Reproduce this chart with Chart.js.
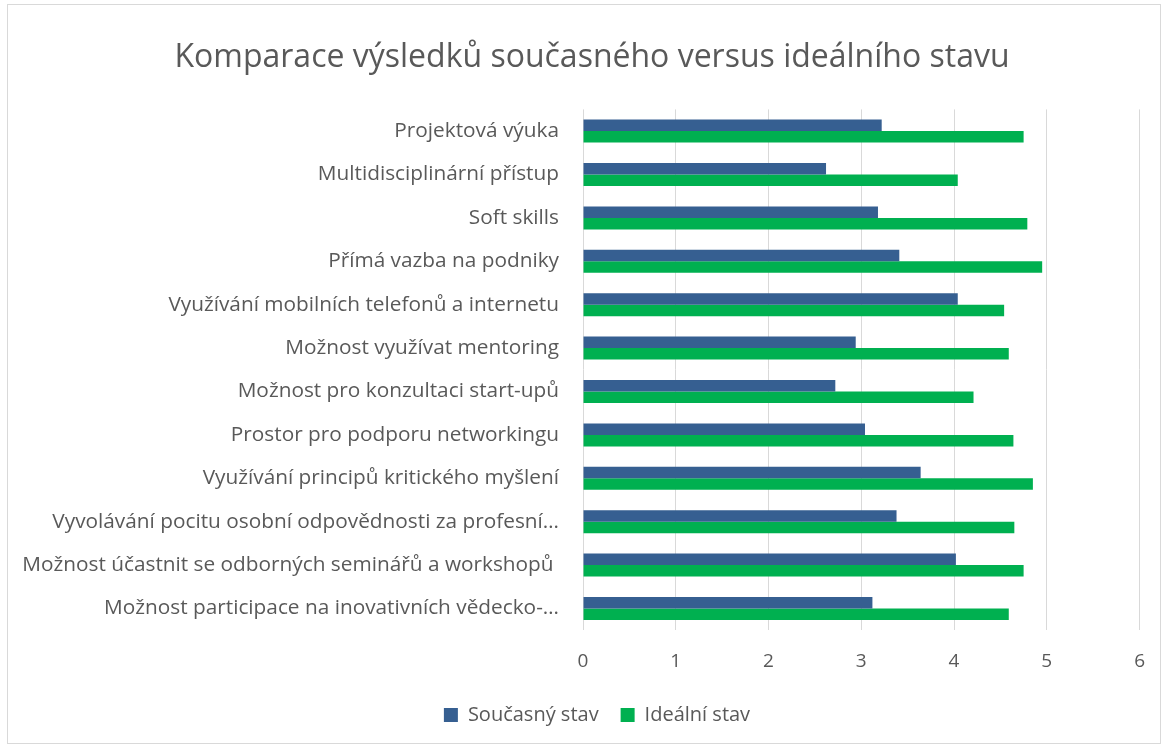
<!DOCTYPE html>
<html><head><meta charset="utf-8">
<script src="https://cdn.jsdelivr.net/npm/chart.js@4"></script>
<style>
html,body{margin:0;padding:0;background:#fff;}
#wrap{position:absolute;left:0;top:0;width:1165px;height:746px;}
#frame{position:absolute;left:7px;top:4px;width:1152px;height:738px;border:1px solid #d9d9d9;pointer-events:none;}
</style></head>
<body>
<div id="wrap"><canvas id="c" width="1165" height="746"></canvas><div id="frame"></div></div>
<script>
const categories = [
  "Projektová výuka",
  "Multidisciplinární přístup",
  "Soft skills",
  "Přímá vazba na podniky",
  "Využívání mobilních telefonů a internetu",
  "Možnost využívat mentoring",
  "Možnost pro konzultaci start-upů",
  "Prostor pro podporu networkingu",
  "Využívání principů kritického myšlení",
  "Vyvolávání pocitu osobní odpovědnosti za profesní…",
  "Možnost účastnit se odborných seminářů a workshopů ",
  "Možnost participace na inovativních vědecko-…"
];
const soucasny = [3.22, 2.62, 3.18, 3.41, 4.04, 2.94, 2.72, 3.04, 3.64, 3.38, 4.02, 3.12];
const idealni  = [4.75, 4.04, 4.79, 4.95, 4.54, 4.59, 4.21, 4.64, 4.85, 4.65, 4.75, 4.59];
const seriesNames = ["Současný stav", "Ideální stav"];
const xTicks = [0, 1, 2, 3, 4, 5, 6];
const titleText = "Komparace výsledků současného versus ideálního stavu";

const FONT = "'Open Sans'";
const GREY = "#595959";
const LEFT_PAD = 20;

const boxShift = {
  id: 'boxShift',
  afterLayout(chart) {
    if (chart.legend) { chart.legend.left += 17; chart.legend.right += 17; }
    if (chart.titleBlock) { chart.titleBlock.left += 12; chart.titleBlock.right += 12; }
  }
};

new Chart(document.getElementById('c'), {
  type: 'bar',
  data: {
    labels: categories,
    datasets: [
      { label: seriesNames[0], data: soucasny, backgroundColor: '#365F91', borderWidth: 0 },
      { label: seriesNames[1], data: idealni, backgroundColor: '#00B050', borderWidth: 0 }
    ]
  },
  plugins: [boxShift],
  options: {
    indexAxis: 'y',
    responsive: false,
    animation: false,
    devicePixelRatio: 1,
    layout: { padding: { left: LEFT_PAD, right: 25, top: 0, bottom: 11 } },
    datasets: { bar: { categoryPercentage: 0.53, barPercentage: 1.0 } },
    plugins: {
      title: {
        display: true, text: titleText, color: GREY,
        font: { family: FONT, size: 32, weight: 'normal' },
        padding: { top: 39, bottom: 32 }
      },
      legend: {
        position: 'bottom',
        labels: { color: GREY, font: { family: FONT, size: 20 }, boxWidth: 14, boxHeight: 14, padding: 22 }
      },
      tooltip: { enabled: false }
    },
    scales: {
      x: {
        min: 0, max: 6,
        afterBuildTicks: s => { s.ticks = xTicks.map(v => ({ value: v })); },
        afterFit: s => { s.height = s.height - 10; },
        ticks: { color: GREY, font: { family: FONT, size: 19 }, padding: 20 },
        grid: { color: '#d9d9d9', lineWidth: 1, drawTicks: false },
        border: { display: false }
      },
      y: {
        afterFit: s => { s.width = 583 - LEFT_PAD; },
        ticks: { color: GREY, font: { family: FONT, size: 20.8 }, padding: 16, autoSkip: false },
        grid: { display: false },
        border: { display: false }
      }
    }
  }
});
</script>
</body></html>
